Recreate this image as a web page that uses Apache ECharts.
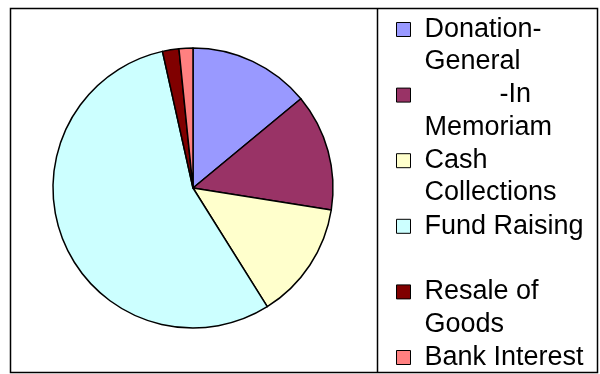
<!DOCTYPE html>
<html>
<head>
<meta charset="utf-8">
<script src="https://cdn.jsdelivr.net/npm/echarts@6/dist/echarts.min.js"></script>
<style>
html,body{margin:0;padding:0;background:#fff;}
#c{width:600px;height:374px;}
</style>
</head>
<body>
<div id="c"></div>
<script>
// Data (share of income, %)
var categories = ['Donation-General', '-In Memoriam', 'Cash Collections', 'Fund Raising', 'Resale of Goods', 'Bank Interest'];
var values = [14.0, 13.5, 13.6, 55.4, 1.9, 1.6];
var legendLabels = [
  'Donation-\nGeneral',
  '          -In\nMemoriam',
  'Cash\nCollections',
  'Fund Raising\n ',
  'Resale of\nGoods',
  'Bank Interest\n '
];
var colors = ['#9999FF', '#993366', '#FFFFCC', '#CCFFFF', '#800000', '#FF8080'];

var chart = echarts.init(document.getElementById('c'), null, {renderer: 'canvas'});
var labelMap = {};
categories.forEach(function (c, i) { labelMap[c] = legendLabels[i]; });

var option = {
  animation: false,
  color: colors,
  graphic: [
    {type: 'rect', shape: {x: 10.5, y: 8.5, width: 587, height: 364}, style: {fill: 'none', stroke: '#000', lineWidth: 1.5}, z: 100},
    {type: 'line', shape: {x1: 377.5, y1: 8.5, x2: 377.5, y2: 372.5}, style: {stroke: '#000', lineWidth: 1.5}, z: 100}
  ],
  legend: {
    orient: 'vertical',
    left: 396,
    top: 13,
    height: 1000,
    padding: 0,
    itemGap: 0.6,
    itemWidth: 23,
    itemHeight: 64,
    icon: 'path://M0,0M0,9h14v14h-14zM23,64',
    itemStyle: {borderColor: '#000', borderWidth: 1},
    selectedMode: false,
    data: categories,
    formatter: function (name) { return labelMap[name]; },
    textStyle: {
      fontFamily: 'Liberation Sans, Arial, sans-serif',
      fontSize: 27,
      lineHeight: 32.3,
      color: '#000'
    }
  },
  series: [{
    type: 'pie',
    center: [193, 188],
    radius: 140,
    startAngle: 90,
    clockwise: true,
    avoidLabelOverlap: false,
    label: {show: false},
    labelLine: {show: false},
    emphasis: {disabled: true},
    itemStyle: {borderColor: '#000', borderWidth: 1.5},
    data: categories.map(function (c, i) { return {name: c, value: values[i]}; })
  }]
};
chart.setOption(option);
</script>
</body>
</html>
